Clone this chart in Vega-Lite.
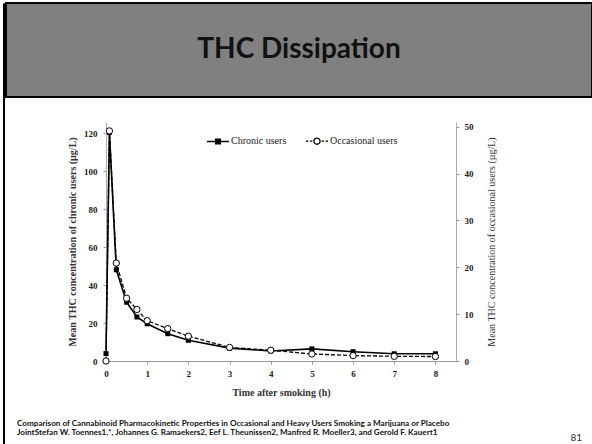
{
  "$schema": "https://vega.github.io/schema/vega-lite/v6.json",
  "padding": {"left": 2, "top": 2, "right": 0, "bottom": 0},
  "background": "white",
  "spacing": 0,
  "config": {"view": {"stroke": null}, "font": "Liberation Serif"},
  "hconcat": [
    {"width": 1, "height": 445, "view": {"stroke": "#000", "strokeWidth": 1}, "data": {"values": []}, "mark": "point"},
    {
      "spacing": 24,
      "vconcat": [
        {
          "width": 586,
          "height": 94,
          "view": {"fill": "#808080", "stroke": "#000", "strokeWidth": 2},
          "data": {"values": [{"label": "THC Dissipation"}]},
          "mark": {"type": "text", "font": "Lato", "fontWeight": "bold", "fontSize": 28, "color": "#111"},
          "encoding": {"text": {"field": "label"}}
        },
        {
          "spacing": 22,
          "vconcat": [
            {
              "spacing": 0,
              "hconcat": [
                {"width": 61, "height": 10, "data": {"values": []}, "mark": "point"},
                {
                  "width": 350,
                  "height": 239,
                  "data": {
                    "values": [
                      {"t": 0, "value": 3.9, "series": "Chronic users"},
                      {"t": 0.083, "value": 120.5, "series": "Chronic users"},
                      {"t": 0.25, "value": 48.1, "series": "Chronic users"},
                      {"t": 0.5, "value": 31, "series": "Chronic users"},
                      {"t": 0.75, "value": 23.2, "series": "Chronic users"},
                      {"t": 1, "value": 19.6, "series": "Chronic users"},
                      {"t": 1.5, "value": 14.4, "series": "Chronic users"},
                      {"t": 2, "value": 10.9, "series": "Chronic users"},
                      {"t": 3, "value": 6.8, "series": "Chronic users"},
                      {"t": 4, "value": 5.3, "series": "Chronic users"},
                      {"t": 5, "value": 6.4, "series": "Chronic users"},
                      {"t": 6, "value": 4.9, "series": "Chronic users"},
                      {"t": 7, "value": 3.8, "series": "Chronic users"},
                      {"t": 8, "value": 3.8, "series": "Chronic users"},
                      {"t": 0, "value": 0, "series": "Occasional users"},
                      {"t": 0.083, "value": 49.1, "series": "Occasional users"},
                      {"t": 0.25, "value": 20.9, "series": "Occasional users"},
                      {"t": 0.5, "value": 13.4, "series": "Occasional users"},
                      {"t": 0.75, "value": 11.0, "series": "Occasional users"},
                      {"t": 1, "value": 8.6, "series": "Occasional users"},
                      {"t": 1.5, "value": 6.9, "series": "Occasional users"},
                      {"t": 2, "value": 5.3, "series": "Occasional users"},
                      {"t": 3, "value": 2.9, "series": "Occasional users"},
                      {"t": 4, "value": 2.3, "series": "Occasional users"},
                      {"t": 5, "value": 1.5, "series": "Occasional users"},
                      {"t": 6, "value": 1.15, "series": "Occasional users"},
                      {"t": 7, "value": 1.0, "series": "Occasional users"},
                      {"t": 8, "value": 0.95, "series": "Occasional users"}
                    ]
                  },
                  "layer": [
                    {
                      "transform": [{"filter": "datum.series == 'Chronic users'"}],
                      "encoding": {
                        "x": {
                          "field": "t", "type": "quantitative",
                          "scale": {"domain": [0, 8.5], "nice": false, "zero": false},
                          "axis": {
                            "values": [0, 1, 2, 3, 4, 5, 6, 7, 8],
                            "title": "Time after smoking (h)",
                            "grid": false, "domainColor": "#999", "tickColor": "#999", "tickSize": 3,
                            "labelPadding": 5, "labelFlush": false, "labelOverlap": false,
                            "labelFont": "Liberation Serif", "labelFontWeight": "bold", "labelFontSize": 9, "labelColor": "#222",
                            "titleFont": "Liberation Serif", "titleFontSize": 10, "titleFontWeight": "bold", "titleColor": "#333",
                            "titlePadding": 9
                          }
                        },
                        "y": {
                          "field": "value", "type": "quantitative",
                          "scale": {"domain": [0, 126], "nice": false},
                          "axis": {
                            "orient": "left",
                            "values": [0, 20, 40, 60, 80, 100, 120],
                            "title": "Mean THC concentration of chronic users (µg/L)",
                            "grid": false, "domainColor": "#aaa", "tickColor": "#999", "tickSize": 3,
                            "labelPadding": 6, "labelOverlap": false,
                            "labelFont": "Liberation Serif", "labelFontWeight": "bold", "labelFontSize": 9, "labelColor": "#222",
                            "titleFont": "Liberation Serif", "titleFontSize": 10, "titleFontWeight": "bold", "titleColor": "#333",
                            "titlePadding": 6
                          }
                        }
                      },
                      "layer": [
                        {"mark": {"type": "line", "color": "#000", "strokeWidth": 1.6}},
                        {"mark": {"type": "point", "shape": "square", "filled": true, "color": "#000", "size": 25, "opacity": 1}},
                        {
                          "transform": [{"filter": "datum.t < 0"}],
                          "mark": {"type": "point", "filled": true, "stroke": "#000", "strokeWidth": 1.3, "opacity": 1},
                          "encoding": {
                            "shape": {
                              "field": "series", "type": "nominal",
                              "scale": {
                                "domain": ["Chronic users", "Occasional users"],
                                "range": ["M-1,0H1M-0.22,-0.22H0.22V0.22H-0.22Z", "M-1,0H-0.78M-0.64,0H-0.42M0.42,0H0.64M0.78,0H1M0.28,0A0.28,0.28 0 1 1 -0.28,0A0.28,0.28 0 1 1 0.28,0Z"]
                              },
                              "legend": {
                                "orient": "none", "legendX": 203, "legendY": 126, "direction": "horizontal",
                                "title": null, "padding": 0, "symbolSize": 484, "symbolStrokeWidth": 1.3,
                                "labelFont": "Liberation Serif", "labelFontSize": 10, "labelColor": "#222",
                                "labelOffset": 1, "columnPadding": 16
                              }
                            },
                            "fill": {
                              "field": "series", "type": "nominal",
                              "scale": {"domain": ["Chronic users", "Occasional users"], "range": ["#000", "#fff"]},
                              "legend": {
                                "orient": "none", "legendX": 203, "legendY": 126, "direction": "horizontal",
                                "title": null, "padding": 0, "symbolSize": 484, "symbolStrokeWidth": 1.3,
                                "labelFont": "Liberation Serif", "labelFontSize": 10, "labelColor": "#222",
                                "labelOffset": 1, "columnPadding": 16
                              }
                            }
                          }
                        }
                      ]
                    },
                    {
                      "transform": [{"filter": "datum.series == 'Occasional users'"}],
                      "encoding": {
                        "x": {"field": "t", "type": "quantitative"},
                        "y": {
                          "field": "value", "type": "quantitative",
                          "scale": {"domain": [0, 51], "nice": false},
                          "axis": {
                            "orient": "right",
                            "values": [0, 10, 20, 30, 40, 50],
                            "title": "Mean THC concentration of occasional users (µg/L)",
                            "titleAngle": 270,
                            "grid": false, "domainColor": "#aaa", "tickColor": "#999", "tickSize": 3,
                            "labelPadding": 5, "labelOverlap": false,
                            "labelFont": "Liberation Serif", "labelFontWeight": "bold", "labelFontSize": 9, "labelColor": "#222",
                            "titleFont": "Liberation Serif", "titleFontSize": 10, "titleFontWeight": "normal", "titleColor": "#333",
                            "titlePadding": 23
                          }
                        }
                      },
                      "layer": [
                        {"mark": {"type": "line", "color": "#000", "strokeWidth": 1.3, "strokeDash": [4, 2]}},
                        {"mark": {"type": "point", "shape": "circle", "filled": true, "fill": "#fff", "stroke": "#000", "strokeWidth": 1, "size": 40, "opacity": 1}}
                      ]
                    }
                  ],
                  "resolve": {"scale": {"y": "independent"}, "axis": {"y": "independent"}}
                }
              ]
            },
            {
              "width": 576,
              "height": 4,
              "data": {"values": [{"p": "81"}]},
              "title": {
                "text": [
                  "Comparison of Cannabinoid Pharmacokinetic Properties in Occasional and Heavy Users Smoking a Marijuana or Placebo",
                  "JointStefan W. Toennes1,*, Johannes G. Ramaekers2, Eef L. Theunissen2, Manfred R. Moeller3, and Gerold F. Kauert1"
                ],
                "anchor": "start", "frame": "group", "dx": 11,
                "font": "Lato", "fontSize": 8.15, "fontWeight": "bold", "color": "#111",
                "lineHeight": 8.5, "offset": -4
              },
              "mark": {"type": "text", "font": "Lato", "fontSize": 10, "color": "#333", "align": "right"},
              "encoding": {"text": {"field": "p"}, "x": {"value": "width"}}
            }
          ]
        }
      ]
    },
    {"width": 1, "height": 445, "view": {"stroke": "#000", "strokeWidth": 1}, "data": {"values": []}, "mark": "point"}
  ]
}
